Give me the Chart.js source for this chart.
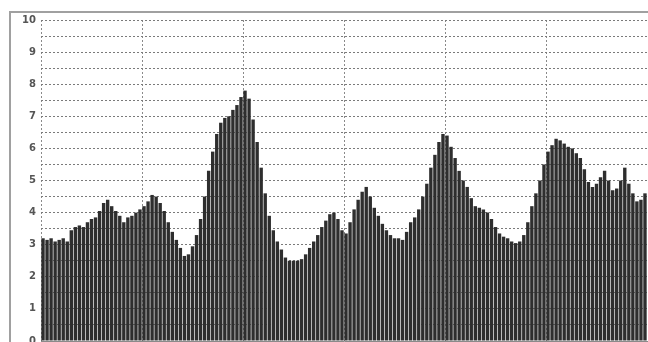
<!DOCTYPE html>
<html>
<head>
<meta charset="utf-8">
<script src="https://cdn.jsdelivr.net/npm/chart.js@4/dist/chart.umd.min.js"></script>
<style>
  html, body { margin: 0; padding: 0; background: #fff; overflow: hidden; }
  #wrap { position: relative; width: 648px; height: 342px; overflow: hidden; }
  #frame { position: absolute; left: 9px; top: 11px; width: 700px; height: 400px; border: 2px solid #a0a0a0; box-sizing: border-box; }
  canvas { position: absolute; left: 0; top: 0; }
</style>
</head>
<body>
<div id="wrap">
  <div id="frame"></div>
  <canvas id="c" width="648" height="352"></canvas>
</div>
<script>
// Bar values, left to right (150 bars)
const values = [
  3.2, 3.15, 3.2, 3.1, 3.15, 3.2, 3.1, 3.45, 3.55, 3.6,
  3.55, 3.7, 3.8, 3.85, 4.05, 4.3, 4.4, 4.2, 4.05, 3.9,
  3.7, 3.85, 3.9, 4.0, 4.1, 4.2, 4.35, 4.55, 4.5, 4.3,
  4.05, 3.7, 3.4, 3.15, 2.9, 2.65, 2.7, 2.95, 3.3, 3.8,
  4.5, 5.3, 5.9, 6.45, 6.8, 6.95, 7.0, 7.2, 7.35, 7.6,
  7.8, 7.55, 6.9, 6.2, 5.4, 4.6, 3.9, 3.45, 3.1, 2.85,
  2.6, 2.5, 2.5, 2.5, 2.55, 2.7, 2.9, 3.1, 3.3, 3.55,
  3.75, 3.95, 4.0, 3.8, 3.45, 3.35, 3.7, 4.1, 4.4, 4.65,
  4.8, 4.5, 4.15, 3.9, 3.65, 3.45, 3.3, 3.2, 3.2, 3.15,
  3.4, 3.7, 3.85, 4.1, 4.5, 4.9, 5.4, 5.8, 6.2, 6.45,
  6.4, 6.05, 5.7, 5.3, 5.0, 4.8, 4.45, 4.2, 4.15, 4.1,
  4.0, 3.8, 3.55, 3.35, 3.25, 3.2, 3.1, 3.05, 3.1, 3.3,
  3.7, 4.2, 4.6, 5.0, 5.5, 5.9, 6.1, 6.3, 6.25, 6.15,
  6.05, 6.0, 5.85, 5.7, 5.35, 4.95, 4.8, 4.9, 5.1, 5.3,
  5.0, 4.7, 4.75, 5.0, 5.4, 4.9, 4.6, 4.35, 4.4, 4.6
];
const categories = values.map((v, i) => String(i + 1));
const yTickValues = [0, 1, 2, 3, 4, 5, 6, 7, 8, 9, 10];
const xGridEvery = 25;

new Chart(document.getElementById('c'), {
  type: 'bar',
  data: {
    labels: categories,
    datasets: [{
      data: values,
      backgroundColor: '#2e2e2e',
      borderWidth: 0,
      barPercentage: 1.0,
      categoryPercentage: 0.84
    }]
  },
  options: {
    responsive: false,
    animation: false,
    events: [],
    layout: { padding: { top: 20, right: 1, bottom: 2, left: 0 } },
    plugins: { legend: { display: false }, tooltip: { enabled: false } },
    scales: {
      x: {
        ticks: { display: false },
        grid: {
          offset: true,
          drawTicks: false,
          color: ctx => (ctx.index % xGridEvery === 0 ? '#8a8a8a' : 'rgba(0,0,0,0)'),
          lineWidth: 1
        },
        border: { display: true, color: '#8a8a8a', width: 1, dash: [2, 2] }
      },
      y: {
        min: 0,
        max: 10,
        z: 1,
        afterFit: s => { s.width = 41; },
        ticks: {
          stepSize: 0.5,
          autoSkip: false,
          padding: 5,
          color: '#555',
          font: { family: 'DejaVu Sans', size: 10, weight: 'bold' },
          callback: v => (yTickValues.includes(v) ? String(v) : '')
        },
        grid: { drawTicks: false, color: '#7a7a7a', lineWidth: 1 },
        border: { display: false, dash: [2, 2] }
      }
    }
  }
});
</script>
</body>
</html>
